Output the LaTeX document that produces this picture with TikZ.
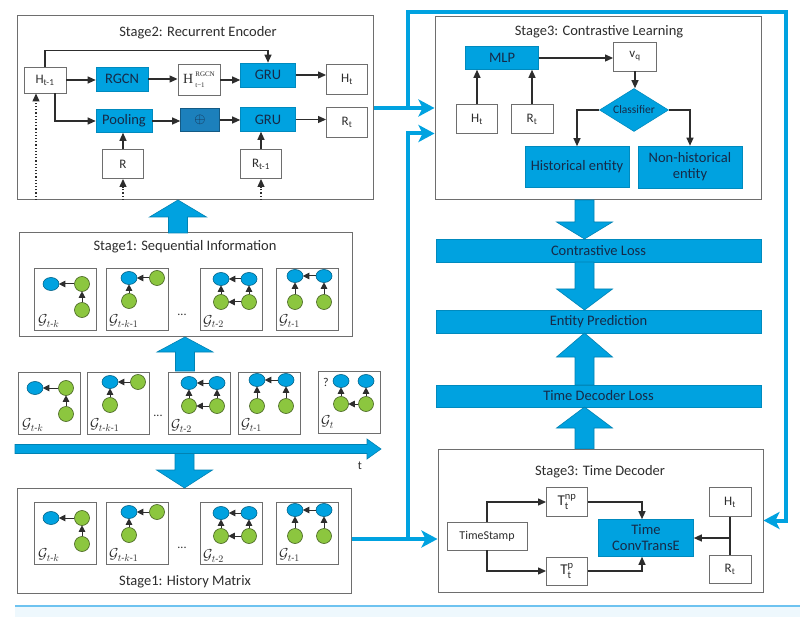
\documentclass[tikz,border=0pt]{standalone}
\usepackage{amsmath}
\usepackage{fontspec}
\setmainfont{Carlito}
\newfontfamily\seriff{Liberation Serif}
\usetikzlibrary{arrows.meta,shapes.geometric,calc}
\definecolor{myblue}{RGB}{0,162,224}
\definecolor{dblue}{RGB}{28,128,188}
\definecolor{mygreen}{RGB}{140,198,63}
\definecolor{frameg}{RGB}{110,110,110}
\definecolor{arrg}{RGB}{45,45,45}
\definecolor{txtb}{RGB}{22,42,72}
\definecolor{lblue}{RGB}{110,195,240}
\newcommand\bigdown[4]{\filldraw[bigarr] ({#1-9.5},#2) -- ({#1+9.5},#2) -- ({#1+9.5},#3) -- ({#1+28},#3) -- (#1,#4) -- ({#1-28},#3) -- ({#1-9.5},#3) -- cycle;}
\begin{document}
\begin{tikzpicture}[x=1pt,y=-1pt,
  title/.style={font=\fontsize{14.5}{16}\selectfont,text=arrg},
  stageframe/.style={draw=frameg,line width=1pt,fill=white,inner sep=0pt},
  wbox/.style={draw=frameg,fill=white,line width=0.9pt,inner sep=0pt,font=\fontsize{13}{15}\selectfont,text=arrg},
  bbox/.style={draw=myblue!85!black,fill=myblue,line width=0.6pt,inner sep=0pt,font=\fontsize{14.5}{16}\selectfont,text=txtb},
  dbox/.style={bbox,fill=dblue,draw=dblue!70!black},
  arr/.style={-{Triangle[length=8pt,width=7pt]},line width=1.2pt,draw=arrg},
  darr/.style={arr,dotted},
  bline/.style={line width=4pt,draw=myblue,-{Stealth[length=16pt,width=17pt,inset=4pt]}},
  bigarr/.style={fill=myblue,draw=myblue!80!black,line width=0.6pt},
  gframe/.style={draw=frameg,fill=white,line width=0.9pt,minimum size=62pt,inner sep=0pt},
  bn/.style={ellipse,fill=myblue,draw=myblue!60!black,line width=0.6pt,minimum width=16pt,minimum height=13pt,inner sep=0pt},
  gn/.style={ellipse,fill=mygreen,draw=mygreen!50!black,line width=0.6pt,minimum width=15pt,minimum height=15pt,inner sep=0pt},
  ia/.style={-{Triangle[length=6.5pt,width=6.5pt]},line width=1pt,draw=arrg,shorten >=-0.5pt},
  glab/.style={anchor=west,inner sep=0pt,font=\fontsize{14}{16}\selectfont,text=arrg},
  dots/.style={font=\fontsize{12}{14}\selectfont,text=arrg},
  pics/gA/.style={code={
    \node[gframe] (-f) at (31,31) {};
    \node[bn] (-b1) at (17,16) {};
    \node[gn] (-g1) at (48,16) {};
    \node[gn] (-g2) at (48,42) {};
    \draw[ia] (-g1) -- (-b1);
    \draw[ia] (-g2) -- (-g1);
    \node[glab] (-l) at (4,53) {$\mathcal{G}_{#1}$};
  }},
  pics/gB/.style={code={
    \node[gframe] (-f) at (31,31) {};
    \node[bn] (-b1) at (23,10) {};
    \node[gn] (-g1) at (51,10) {};
    \node[gn] (-g2) at (23,33) {};
    \draw[ia] (-g1) -- (-b1);
    \draw[ia] (-g2) -- (-b1);
    \node[glab] (-l) at (3,53) {$\mathcal{G}_{#1}$};
  }},
  pics/gC/.style={code={
    \node[gframe] (-f) at (31,31) {};
    \node[bn] (-b1) at (21,11) {};
    \node[bn] (-b2) at (49,11) {};
    \node[gn] (-g1) at (21,34) {};
    \node[gn] (-g2) at (49,34) {};
    \draw[ia] (-b2) -- (-b1);
    \draw[ia] (-g1) -- (-b1);
    \draw[ia] (-g2) -- (-b2);
    \draw[ia] (-g2) -- (-g1);
    \node[glab] (-l) at (3,54) {$\mathcal{G}_{#1}$};
  }},
  pics/gD/.style={code={
    \node[gframe] (-f) at (31,31) {};
    \node[bn] (-b1) at (19,8) {};
    \node[bn] (-b2) at (48,8) {};
    \node[gn] (-g1) at (19,34) {};
    \node[gn] (-g2) at (48,34) {};
    \draw[ia] (-b2) -- (-b1);
    \draw[ia] (-g1) -- (-b1);
    \draw[ia] (-g2) -- (-b2);
    \node[glab] (-l) at (3,53) {$\mathcal{G}_{#1}$};
  }},
  pics/gE/.style={code={
    \node[gframe] (-f) at (31,31) {};
    \node[dots] (-q) at (8,11) {?};
    \node[bn] (-b1) at (23,10) {};
    \node[bn] (-b2) at (48,10) {};
    \node[gn] (-g1) at (23,33) {};
    \node[gn] (-g2) at (48,33) {};
    \draw[ia] (-g1) -- (-b1);
    \draw[ia] (-g2) -- (-b2);
    \draw[ia] (-g2) -- (-g1);
    \node[glab] (-l) at (3,51) {$\mathcal{G}_{#1}$};
  }}
]
\useasboundingbox (0,0) rectangle (800,617);
\fill[white] (0,0) rectangle (800,617);

% ===== Stage 2 =====
\node[stageframe,minimum width=356pt,minimum height=184pt] (s2) at (195,108) {};
\node[title] (s2t) at (198,33) {Stage2: Recurrent Encoder};
\node[wbox,minimum width=42pt,minimum height=26pt] (hprev) at (45,80) {H\textsubscript{t-1}};
\node[bbox,minimum width=52pt,minimum height=24pt] (rgcn) at (122,79) {RGCN};
\node[wbox,minimum width=42pt,minimum height=31pt,font=\seriff\fontsize{14}{15}\selectfont] (hrgcn) at (199,80) {H\kern2pt\raisebox{-4.5pt}{\fontsize{7}{11}\selectfont\begin{tabular}[b]{@{}l@{}}RGCN\\t{\textminus}1\end{tabular}}};
\node[bbox,minimum width=55pt,minimum height=24pt] (gru1) at (268,75) {GRU};
\node[wbox,minimum width=41pt,minimum height=30pt] (ht) at (347,79) {H\textsubscript{t}};
\node[bbox,minimum width=56pt,minimum height=23pt] (pool) at (124,121) {Pooling};
\node[dbox,minimum width=39pt,minimum height=23pt] (oplus) at (200,120) {$\oplus$};
\node[bbox,minimum width=55pt,minimum height=24pt] (gru2) at (268,119.5) {GRU};
\node[wbox,minimum width=41pt,minimum height=30pt] (rt) at (347,122) {R\textsubscript{t}};
\node[wbox,minimum width=41pt,minimum height=29pt] (r) at (123,164) {R};
\node[wbox,minimum width=41pt,minimum height=29pt] (rprev) at (261,164) {R\textsubscript{t-1}};

\draw[arr] (hprev.north) -- ++(0,-16) -| (gru1.north);
\draw[arr] (hprev.east) -- (hprev.east -| rgcn.west);
\draw[arr] (rgcn.east) -- (rgcn.east -| hrgcn.west);
\draw[arr] (hrgcn.east) -- (hrgcn.east -| gru1.west);
\draw[arr] (gru1.east) -- (gru1.east -| ht.west);
\draw[arr] ($(hprev.south)+(10,0)$) |- (pool.west);
\draw[arr] (pool.east) -- (pool.east -| oplus.west);
\draw[arr] (oplus.east) -- (oplus.east -| gru2.west);
\draw[arr] (gru2.east) -- (gru2.east -| rt.west);
\draw[arr] (r.north) -- (r.north |- pool.south);
\draw[arr] (rprev.north) -- (rprev.north |- gru2.south);
\coordinate (d1) at (36,200);
\coordinate (d2) at (123,200);
\coordinate (d3) at (261,200);
\draw[darr] (d1) -- (d1 |- hprev.south);
\draw[darr] (d2) -- (r.south);
\draw[darr] (d3) -- (rprev.south);

% ===== Stage 1: Sequential =====
\node[stageframe,minimum width=333pt,minimum height=104pt] (seq) at (185.5,285) {};
\node[title] (seqt) at (185,247) {Stage1: Sequential Information};
\pic (sa) at (34,268) {gA={t\text{-}k}};
\pic (sb) at (106,268) {gB={t\text{-}k\text{-}1}};
\node[dots] (sdots) at (182,315) {...};
\pic (sc) at (200,268) {gC={t\text{-}2}};
\pic (sd) at (276,268) {gD={t\text{-}1}};

% ===== timeline row =====
\pic (ta) at (18,372) {gA={t\text{-}k}};
\pic (tb) at (87,372) {gB={t\text{-}k\text{-}1}};
\node[dots] (tdots) at (158,416) {...};
\pic (tc) at (168,372) {gC={t\text{-}2}};
\pic (td1) at (238,372) {gD={t\text{-}1}};
\pic (te) at (318,371) {gE={t}};
\filldraw[bigarr] (15,444.5) -- (367,444.5) -- (367,439) -- (381,449) -- (367,459) -- (367,453.5) -- (15,453.5) -- cycle;
\node[dots] (tl) at (360,466) {t};

% ===== Stage 1: History =====
\node[stageframe,minimum width=334pt,minimum height=105pt] (hm) at (184,540.5) {};
\node[title] (hmt) at (185,582) {Stage1: History Matrix};
\pic (ha) at (34,502) {gA={t\text{-}k}};
\pic (hb) at (106,502) {gB={t\text{-}k\text{-}1}};
\node[dots] (hdots) at (182,548) {...};
\pic (hc) at (200,502) {gC={t\text{-}2}};
\pic (hd) at (276,502) {gD={t\text{-}1}};

% big arrows left column
\filldraw[bigarr] (168.5,233) -- (187.5,233) -- (187.5,217) -- (206.5,217) -- (178,200) -- (149.5,217) -- (168.5,217) -- cycle;
\filldraw[bigarr] (175.5,371) -- (194.5,371) -- (194.5,352) -- (213,352) -- (185,337) -- (157,352) -- (175.5,352) -- cycle;
\bigdown{184.5}{453.5}{470}{488}

% ===== Stage 3: Contrastive =====
\node[stageframe,minimum width=326pt,minimum height=183pt] (s3) at (598,108.5) {};
\node[title] (s3t) at (599,32) {Stage3: Contrastive Learning};
\node[bbox,minimum width=73pt,minimum height=23pt] (mlp) at (502,58) {MLP};
\node[wbox,minimum width=43pt,minimum height=29pt] (vq) at (635,56.5) {v\textsubscript{q}};
\node[wbox,minimum width=41pt,minimum height=29pt] (ht2) at (477,119) {H\textsubscript{t}};
\node[wbox,minimum width=42pt,minimum height=29pt] (rt2) at (532,119) {R\textsubscript{t}};
\node[bbox,diamond,aspect=1.6,minimum width=69pt,minimum height=43pt,font=\fontsize{11.5}{13}\selectfont] (cls) at (634,110) {Classifier};
\node[bbox,minimum width=104pt,minimum height=41pt] (hist) at (577,167) {Historical entity};
\node[bbox,minimum width=104pt,minimum height=42pt,align=center] (nhist) at (690,167) {Non-historical\\entity};
\draw[arr] (mlp.east) -- (mlp.east -| vq.west);
\draw[arr] (vq.south) -- (vq.south |- cls.north);
\draw[arr] (ht2.north) -- (ht2.north |- mlp.south);
\draw[arr] (rt2.north) -- (rt2.north |- mlp.south);
\draw[arr] (cls.west) -| (hist.north);
\draw[arr] (cls.east) -| (nhist.north);

% ===== loss bars =====
\node[bbox,minimum width=325pt,minimum height=23pt] (closs) at (598.5,250.5) {Contrastive Loss};
\node[bbox,minimum width=325pt,minimum height=23pt] (epred) at (598.5,321.5) {Entity Prediction};
\node[bbox,minimum width=325pt,minimum height=22pt] (tdl) at (598.5,396) {Time Decoder Loss};
\bigdown{584.5}{200}{222}{239}
\bigdown{584.5}{262}{289}{310}
\bigdown{584.5}{385}{357}{333}
\bigdown{584.5}{449}{428}{407}

% ===== Stage 3: Time decoder =====
\node[stageframe,minimum width=325pt,minimum height=143pt] (tdec) at (600.5,520.5) {};
\node[title] (tdect) at (600,472) {Stage3: Time Decoder};
\node[wbox,minimum width=80pt,minimum height=28pt,font=\fontsize{12}{14}\selectfont] (ts) at (487,536) {TimeStamp};
\node[wbox,minimum width=41pt,minimum height=29pt,font=\fontsize{15}{17}\selectfont] (tnp) at (567,502) {$\mathrm{T}^{\mathrm{np}}_{\mathrm{t}}$};
\node[wbox,minimum width=41pt,minimum height=28pt,font=\fontsize{15}{17}\selectfont] (tp) at (567,571) {$\mathrm{T}^{\mathrm{p}}_{\mathrm{t}}$};
\node[bbox,minimum width=95pt,minimum height=37pt,align=center] (conv) at (646,538) {Time\\ConvTransE};
\node[wbox,minimum width=42pt,minimum height=29pt] (ht3) at (730,502) {H\textsubscript{t}};
\node[wbox,minimum width=42pt,minimum height=28pt] (rt3) at (730,569) {R\textsubscript{t}};
\draw[arr] (ts.north) |- (tnp.west);
\draw[arr] (ts.south) |- (tp.west);
\draw[arr] (tnp.east) -| ($(conv.north)+(-4,0)$);
\draw[arr] (tp.east) -| ($(conv.south)+(-4,0)$);
\draw[line width=1.2pt,draw=arrg] (ht3.south) -- (rt3.north);
\coordinate (jn) at (ht3.south |- conv.east);
\draw[arr] (jn) -- (conv.east);

% ===== thick blue connectors =====
\coordinate (j1) at (408,108);
\coordinate (tr) at (786,12);
\coordinate (j2) at (408,539);
\draw[bline] (s2.east) -- (s2.east -| s3.west);
\draw[bline] (j1) |- (tr) |- (tdec.east);
\draw[bline] (hm.east |- j2) -- (j2 -| tdec.west);
\draw[bline] (j2) |- ($(s3.west)+(0,25)$);

% bottom rule
\fill[lblue!12] (15,607) rectangle (800,617);
\draw[lblue,line width=1.5pt] (15,606) -- (800,606);
\end{tikzpicture}
\end{document}
